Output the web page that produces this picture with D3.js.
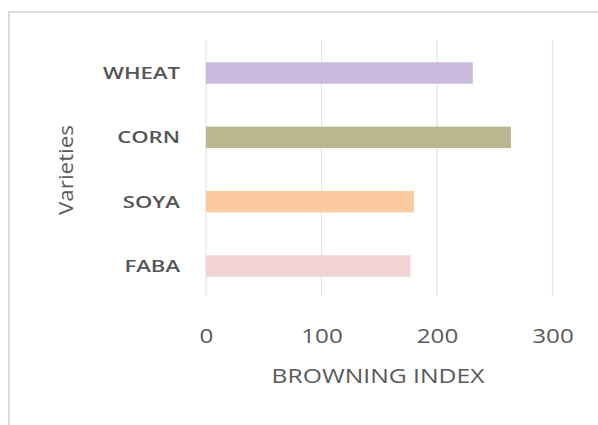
<!DOCTYPE html>
<html>
<head>
<meta charset="utf-8">
<script src="https://cdn.jsdelivr.net/npm/d3@7"></script>
<style>
  html, body { margin: 0; padding: 0; background: #fff; }
  svg { display: block; }
</style>
</head>
<body>
<svg id="chart" width="598" height="425"></svg>
<script>
// Browning index per variety
const categories = ["WHEAT", "CORN", "SOYA", "FABA"];
const values = [231, 264, 180, 177];
const barColors = ["#c9b9dc", "#bcb68e", "#fccaa0", "#f2d4d6"];
const xTicks = [0, 100, 200, 300];
const xTitle = "BROWNING INDEX";
const yTitle = "Varieties";

const svg = d3.select("#chart");
const font = "'Open Sans', Lato, sans-serif";

// Widen a text selection horizontally so that a sample label reaches a given width
function widen(sel, sampleNode, targetWidth) {
  const w = sampleNode.getComputedTextLength();
  const s = targetWidth / w;
  sel.attr("transform", function () {
    const prev = d3.select(this).attr("data-base") || "";
    return prev + ` scale(${s},1)`;
  });
}

// Chart frame
svg.append("path")
  .attr("d", "M9,425 V12 H598")
  .attr("fill", "none")
  .attr("stroke", "#dcdcdc")
  .attr("stroke-width", 2);

const x = d3.scaleLinear().domain([0, 300]).range([206, 552.5]);
const y = d3.scaleBand().domain(categories).range([41, 298]).paddingInner(0.665).paddingOuter(0.33);

// Vertical gridlines
svg.append("g")
  .selectAll("line")
  .data(xTicks)
  .join("line")
  .attr("x1", d => x(d)).attr("x2", d => x(d))
  .attr("y1", 40).attr("y2", 296)
  .attr("stroke", "#e3e3e3")
  .attr("stroke-width", 1.2);

// Bars
svg.append("g")
  .selectAll("rect")
  .data(categories)
  .join("rect")
  .attr("x", x(0))
  .attr("y", d => y(d) + y.bandwidth() / 2 - 10.75)
  .attr("width", (d, i) => x(values[i]) - x(0))
  .attr("height", 21.5)
  .attr("fill", (d, i) => barColors[i]);

// X axis tick labels
const xAxis = d3.axisBottom(x).tickValues(xTicks).tickSize(0).tickPadding(0);
const gx = svg.append("g").attr("transform", "translate(0,343)").call(xAxis);
gx.select(".domain").remove();
const xt = gx.selectAll("text")
  .attr("dy", 0)
  .attr("y", 0)
  .attr("font-family", font)
  .attr("font-size", 20.5)
  .attr("fill", "#5a5a5a");
widen(xt, xt.filter(d => d === 100).node(), 41.5);

// Y axis category labels
const yAxis = d3.axisLeft(y).tickSize(0).tickPadding(0);
const gy = svg.append("g").attr("transform", "translate(180,0)").call(yAxis);
gy.select(".domain").remove();
const yt = gy.selectAll("text")
  .attr("x", 0)
  .attr("dy", "0.36em")
  .attr("font-family", font)
  .attr("font-size", 17)
  .attr("font-weight", 600)
  .attr("fill", "#555");
widen(yt, yt.filter(d => d === "WHEAT").node(), 77);

// Axis titles
const xTitleText = svg.append("text")
  .attr("data-base", "translate(378,383)")
  .attr("text-anchor", "middle")
  .attr("font-family", font)
  .attr("font-size", 20.5)
  .attr("fill", "#5a5a5a")
  .text(xTitle);
widen(xTitleText, xTitleText.node(), 213);

const yTitleText = svg.append("text")
  .attr("data-base", "translate(73,170) rotate(-90)")
  .attr("text-anchor", "middle")
  .attr("font-family", font)
  .attr("font-size", 20)
  .attr("fill", "#5a5a5a")
  .text(yTitle);
widen(yTitleText, yTitleText.node(), 90);
</script>
</body>
</html>
